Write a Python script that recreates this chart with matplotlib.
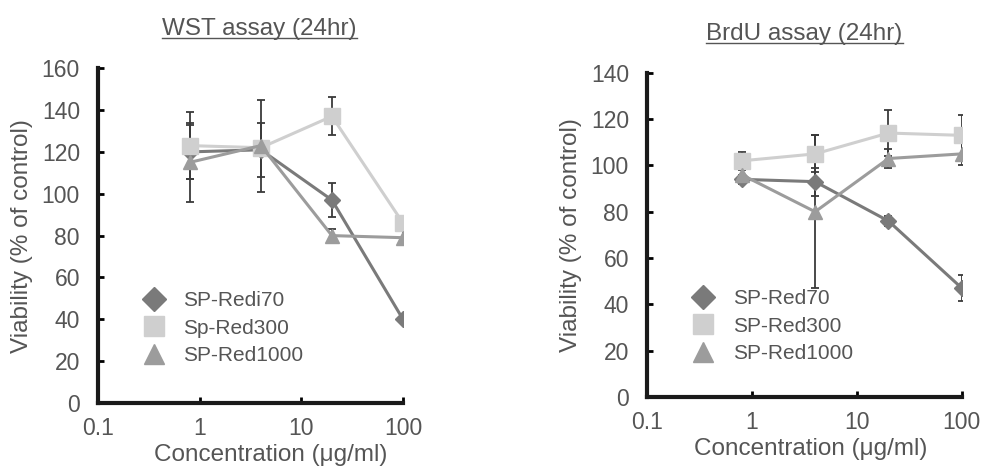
import numpy as np
import matplotlib
matplotlib.use("Agg")
import matplotlib.pyplot as plt
from matplotlib.lines import Line2D

plt.rcParams['font.family'] = ['Liberation Sans', 'DejaVu Sans']

conc = [0.8, 4, 20, 100]

# WST assay (24hr)
wst_labels = ["SP-Redi70", "Sp-Red300", "SP-Red1000"]
wst_red70 = [120, 121, 97, 40]
wst_red70_err = [13, 13, 8, 1]
wst_red300 = [123, 122, 137, 86]
wst_red300_err = [16, 2, 9, 1]
wst_red1000 = [115, 123, 80, 79]
wst_red1000_err = [19, 22, 3, 3]

# BrdU assay (24hr)
brdu_labels = ["SP-Red70", "SP-Red300", "SP-Red1000"]
brdu_red70 = [94, 93, 76, 47]
brdu_red70_err = [2, 6, 2, 5.5]
brdu_red300 = [102, 105, 114, 113]
brdu_red300_err = [4, 8, 10, 9]
brdu_red1000 = [96, 80, 103, 105]
brdu_red1000_err = [3, 33, 4, 5]

colors = ['#7a7a7a', '#cfcfcf', '#9c9c9c']
markers = ['D', 's', '^']
msizes = [8, 11, 10]
txt = '#555555'

fig = plt.figure(figsize=(9.87, 4.67), dpi=100)
ax1 = fig.add_axes([0.0993, 0.137, 0.309, 0.717])
ax2 = fig.add_axes([0.6555, 0.150, 0.319, 0.694])


def draw(ax, series, errs, labels, ymax, title, leg_anchor, xl_x, t_x):
    handles = []
    for vals, err, c, m, ms, lab in zip(series, errs, colors, markers, msizes, labels):
        ax.errorbar(conc, vals, yerr=err, color=c, ecolor='#3a3a3a', elinewidth=1.3,
                    capsize=3, capthick=1.3, linewidth=2.2, marker=m, markersize=ms,
                    markeredgecolor=c, zorder=3)
        handles.append(Line2D([], [], color=c, marker=m, markersize=ms + 4,
                              linestyle='none', markeredgecolor=c, label=lab))
    ax.set_xscale('log')
    ax.set_xlim(0.1, 100)
    ax.set_ylim(0, ymax)
    ax.set_xticks([0.1, 1, 10, 100])
    ax.set_xticklabels(['0.1', '1', '10', '100'])
    ax.set_yticks(np.arange(0, ymax + 1, 20))
    ax.minorticks_off()
    for s in ['top', 'right']:
        ax.spines[s].set_visible(False)
    for s in ['left', 'bottom']:
        ax.spines[s].set_linewidth(3)
        ax.spines[s].set_color('#1a1a1a')
    ax.tick_params(axis='y', direction='in', length=4, width=2, pad=13,
                   labelsize=16.5, labelcolor=txt)
    ax.tick_params(axis='x', direction='in', length=4, width=2, pad=10,
                   labelsize=16.5, labelcolor=txt)
    ax.set_xlabel('Concentration (\u03bcg/ml)', fontsize=17.5, color=txt,
                  labelpad=3, x=xl_x)
    ax.set_ylabel('Viability (% of control)', fontsize=17.5, color=txt, labelpad=6)
    ax.legend(handles=handles, loc='upper left', bbox_to_anchor=leg_anchor,
              frameon=False, fontsize=15, labelcolor=txt, handletextpad=0.8,
              labelspacing=0.4, handlelength=1.2)
    t = ax.set_title(title, fontsize=17.5, color=txt, pad=24, x=t_x)
    return t


t1 = draw(ax1, [wst_red70, wst_red300, wst_red1000],
          [wst_red70_err, wst_red300_err, wst_red1000_err],
          wst_labels, 160, 'WST assay (24hr)', (0.08, 0.39), 0.565, 0.53)
t2 = draw(ax2, [brdu_red70, brdu_red300, brdu_red1000],
          [brdu_red70_err, brdu_red300_err, brdu_red1000_err],
          brdu_labels, 140, 'BrdU assay (24hr)', (0.08, 0.39), 0.52, 0.5)

# underline titles
fig.canvas.draw()
r = fig.canvas.get_renderer()
for t in [t1, t2]:
    bb = t.get_window_extent(r).transformed(fig.transFigure.inverted())
    fig.add_artist(Line2D([bb.x0, bb.x1], [bb.y0 + 0.004, bb.y0 + 0.004],
                          transform=fig.transFigure, color=txt, linewidth=1))

fig.savefig('out.png', dpi=100)
